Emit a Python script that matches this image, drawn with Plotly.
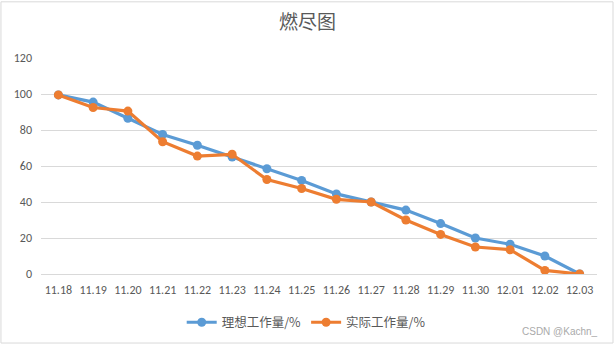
import plotly.graph_objects as go

dates = ["11.18", "11.19", "11.20", "11.21", "11.22", "11.23", "11.24", "11.25",
         "11.26", "11.27", "11.28", "11.29", "11.30", "12.01", "12.02", "12.03"]
ideal = [99.5, 95.5, 86.5, 77.5, 71.5, 65, 58.5, 52, 44.5, 40, 35.5, 28, 20, 16.5, 10, 0]
actual = [99.5, 92.5, 90.5, 73.5, 65.5, 66.5, 52.5, 47.5, 41.5, 40, 30, 22, 15, 13.5, 2, 0]

blue = "#5B9BD5"
orange = "#ED7D31"
grey = "#595959"
font_family = "Calibri, 'Liberation Sans', 'Noto Sans CJK SC', sans-serif"

fig = go.Figure()
fig.add_trace(go.Scatter(x=list(range(len(dates))), y=ideal, name="理想工作量/%",
                         mode="lines+markers",
                         line=dict(color=blue, width=3.2),
                         marker=dict(color=blue, size=9)))
fig.add_trace(go.Scatter(x=list(range(len(dates))), y=actual, name="实际工作量/%",
                         mode="lines+markers",
                         line=dict(color=orange, width=3.2),
                         marker=dict(color=orange, size=9)))

fig.update_layout(
    width=615, height=349,
    margin=dict(l=41, r=18, t=58, b=72),
    paper_bgcolor="white", plot_bgcolor="white",
    font=dict(family=font_family, color=grey, size=12),
    title=dict(text="燃尽图", x=0.5, xanchor="center", y=0.935, yanchor="middle",
               font=dict(family="'Noto Sans CJK SC', sans-serif", size=19, color=grey)),
    showlegend=True,
    legend=dict(orientation="h", x=0.477, xanchor="center", y=-0.225, yanchor="middle",
                font=dict(family="'Noto Sans CJK SC', sans-serif", size=12.5, color=grey),
                itemwidth=30, tracegroupgap=0),
    xaxis=dict(range=[-0.5, len(dates) - 0.5], tickmode="array",
               tickvals=list(range(len(dates))), ticktext=dates,
               showgrid=False, zeroline=False, showline=False, ticks="",
               ticklabelstandoff=7,
               tickfont=dict(size=12, color=grey)),
    yaxis=dict(range=[0, 120], tickmode="linear", tick0=0, dtick=20,
               showgrid=True, gridcolor="#D9D9D9", gridwidth=1,
               zeroline=True, zerolinecolor="#D9D9D9", zerolinewidth=1,
               showline=False, ticks="", ticklabelstandoff=8,
               tickfont=dict(size=12, color=grey)),
    shapes=[dict(type="rect", xref="paper", yref="paper",
                 x0=-0.072, x1=1.0288, y0=-0.3196, y1=1.26,
                 line=dict(color="#D9D9D9", width=1), fillcolor="rgba(0,0,0,0)",
                 layer="below")],
    annotations=[dict(text="CSDN @Kachn_", xref="paper", yref="paper",
                      x=1.005, y=-0.265, xanchor="right", yanchor="middle",
                      showarrow=False,
                      font=dict(family="'Liberation Sans', sans-serif", size=10, color="#AAAAAA"))],
)

fig.write_html("out.html")
